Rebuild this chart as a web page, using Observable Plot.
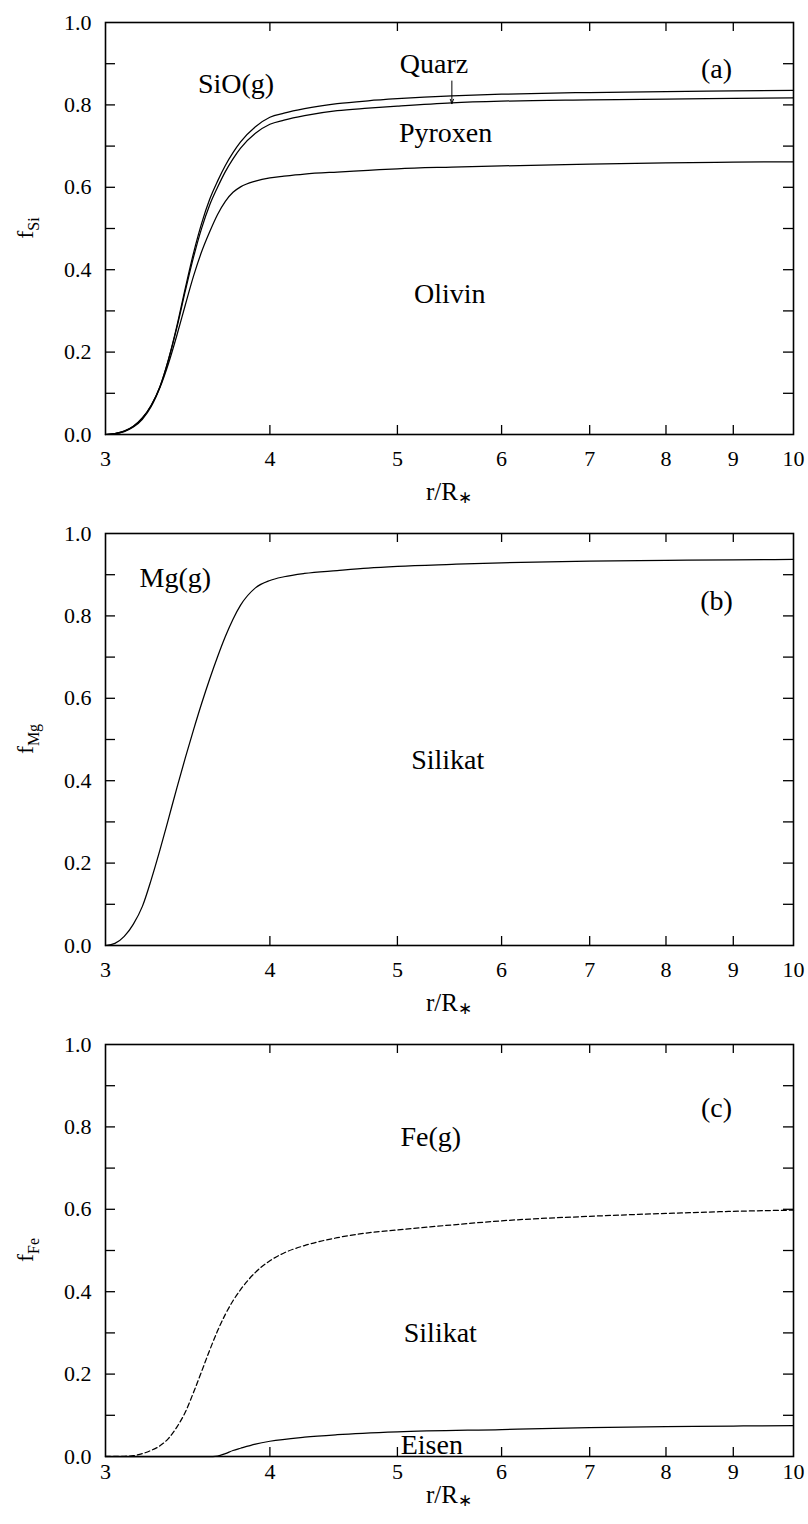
<!DOCTYPE html>
<html><head><meta charset="utf-8">
<script src="https://cdn.jsdelivr.net/npm/d3@7"></script>
<script src="https://cdn.jsdelivr.net/npm/@observablehq/plot@0.6"></script>
<style>
body{margin:0;background:#fff;}
#chart{width:808px;}
#chart svg{display:block;}
</style></head><body><div id="chart"></div>
<script>
// ---------- data ----------
const xTickValues = [3,4,5,6,7,8,9,10];
const xInnerTicks = [4,5,6,7,8,9];
const yTickLabels = [0,0.2,0.4,0.6,0.8,1.0];
const yMinorTicks = [0.1,0.2,0.3,0.4,0.5,0.6,0.7,0.8,0.9];

// panel (a) : Si
const rA = [3.0,3.05,3.1,3.15,3.2,3.25,3.3,3.35,3.4,3.45,3.5,3.55,3.6,3.65,3.7,3.75,3.8,3.9,4.0,4.1,4.25,4.5,4.75,5.0,5.5,6.0,7.0,8.0,9.0,10.0];
const siQuarzTop   = [0,0.002,0.008,0.020,0.040,0.071,0.116,0.183,0.265,0.356,0.441,0.513,0.571,0.615,0.653,0.684,0.710,0.747,0.770,0.780,0.791,0.803,0.810,0.815,0.822,0.826,0.830,0.832,0.834,0.835];
const siPyroxenTop = [0,0.002,0.008,0.020,0.040,0.071,0.116,0.182,0.261,0.349,0.431,0.501,0.557,0.600,0.638,0.669,0.695,0.731,0.753,0.763,0.774,0.786,0.792,0.797,0.805,0.809,0.812,0.814,0.816,0.817];
const siOlivinTop  = [0,0.002,0.007,0.018,0.037,0.068,0.114,0.173,0.242,0.315,0.385,0.444,0.492,0.534,0.566,0.588,0.601,0.615,0.623,0.627,0.632,0.637,0.641,0.645,0.649,0.652,0.656,0.659,0.661,0.662];

// panel (b) : Mg
const rB = rA;
const mgSilikatTop = [0,0.005,0.022,0.052,0.095,0.160,0.232,0.308,0.384,0.456,0.524,0.588,0.647,0.701,0.750,0.792,0.826,0.868,0.886,0.895,0.903,0.910,0.916,0.920,0.925,0.929,0.933,0.935,0.936,0.937];

// panel (c) : Fe
const rC = [3.0,3.1,3.15,3.2,3.25,3.3,3.35,3.4,3.45,3.5,3.55,3.6,3.65,3.7,3.75,3.8,3.9,4.0,4.1,4.25,4.5,4.75,5.0,5.5,6.0,7.0,8.0,9.0,10.0];
const feSilikatTop = [0,0.0005,0.002,0.007,0.015,0.026,0.044,0.072,0.108,0.156,0.207,0.258,0.305,0.345,0.378,0.405,0.447,0.475,0.494,0.512,0.531,0.543,0.550,0.562,0.572,0.583,0.590,0.595,0.598];
const rEisen = [3.0,3.5,3.6,3.62,3.65,3.7,3.75,3.8,3.9,4.0,4.25,4.5,5.0,6.0,7.0,8.0,9.0,10.0];
const feEisenTop = [0,0,0,0,0.001,0.007,0.0145,0.020,0.030,0.037,0.047,0.053,0.060,0.0655,0.070,0.0728,0.074,0.075];

// annotation labels (data coordinates)
const labelsA = [
  {text:"SiO(g)", r:3.77, f:0.850},
  {text:"Quarz", r:5.33, f:0.898},
  {text:"Pyroxen", r:5.44, f:0.731},
  {text:"(a)", r:8.74, f:0.888},
  {text:"Olivin", r:5.48, f:0.342}
];
const arrowA = [{r:5.50, f1:0.858, f2:0.803}];
const labelsB = [
  {text:"Mg(g)", r:3.39, f:0.893},
  {text:"(b)", r:8.74, f:0.835},
  {text:"Silikat", r:5.46, f:0.45}
];
const labelsC = [
  {text:"(c)", r:8.74, f:0.845},
  {text:"Fe(g)", r:5.30, f:0.775},
  {text:"Silikat", r:5.39, f:0.299},
  {text:"Eisen", r:5.31, f:0.027}
];

// ---------- drawing ----------
const FONT = "Liberation Serif, Times New Roman, serif";
const FRAME_H = 412, FRAME_W = 688, MT = 22;

function series(rs, fs) { return rs.map((r, i) => ({r, f: fs[i]})); }

function panel(cfg) {
  const mb = cfg.height - MT - FRAME_H;
  const marks = [
    Plot.frame({stroke: "black", strokeWidth: 1.6}),
    Plot.ruleX(xInnerTicks, {insetTop: FRAME_H - 9, stroke: "black", strokeWidth: 1.3}),
    Plot.ruleX(xInnerTicks, {insetBottom: FRAME_H - 9, stroke: "black", strokeWidth: 1.3}),
    Plot.ruleY(yMinorTicks, {insetRight: FRAME_W - 10, stroke: "black", strokeWidth: 1.3}),
    Plot.ruleY(yMinorTicks, {insetLeft: FRAME_W - 10, stroke: "black", strokeWidth: 1.3}),
    Plot.axisX(xTickValues, {tickSize: 0, tickPadding: cfg.xPad, fontSize: 22, tickFormat: d => String(d), label: null}),
    Plot.axisY(yTickLabels, {tickSize: 0, tickPadding: 14, fontSize: 22, tickFormat: d3.format(".1f"), label: null}),
    ...cfg.lines.map(l => Plot.line(l.data, {x: "r", y: "f", stroke: "black", strokeWidth: 1.25, curve: "monotone-x", strokeDasharray: l.dash || null})),
    Plot.text(cfg.labels, {x: "r", y: "f", text: "text", fontSize: 28, textAnchor: "middle", fill: "black"}),
    ...(cfg.arrows ? [Plot.arrow(cfg.arrows, {x1: "r", x2: "r", y1: "f1", y2: "f2", stroke: "black", strokeWidth: 1, headLength: 7, headAngle: 40})] : [])
  ];
  const p = Plot.plot({
    width: 808, height: cfg.height,
    marginTop: MT, marginBottom: mb, marginLeft: 105, marginRight: 15,
    x: {type: "log", domain: [3, 10]},
    y: {domain: [0, 1]},
    style: {fontFamily: FONT, fontSize: "22px", color: "black", background: "white", overflow: "visible"},
    marks
  });
  const svg = d3.select(p);
  // y label with subscript
  const yl = svg.append("text")
    .attr("transform", `translate(33,${MT + FRAME_H / 2}) rotate(-90)`)
    .attr("text-anchor", "middle")
    .attr("font-family", FONT).attr("font-size", 24).attr("fill", "black");
  yl.append("tspan").text("f");
  yl.append("tspan").attr("font-size", 16).attr("dy", 6).text(cfg.sub);
  // x label r/R*
  const xl = svg.append("text")
    .attr("x", 449).attr("y", MT + FRAME_H + cfg.xLabelOff)
    .attr("text-anchor", "middle")
    .attr("font-family", FONT).attr("font-size", 25).attr("fill", "black");
  xl.append("tspan").text("r/R");
  xl.append("tspan").attr("font-size", 17).attr("dy", 3).text("\u2217");
  return p;
}

const root = document.getElementById("chart");
root.appendChild(panel({
  height: 511, xPad: 16, xLabelOff: 66, sub: "Si",
  lines: [
    {data: series(rA, siQuarzTop)},
    {data: series(rA, siPyroxenTop)},
    {data: series(rA, siOlivinTop)}
  ],
  labels: labelsA, arrows: arrowA
}));
root.appendChild(panel({
  height: 511, xPad: 16, xLabelOff: 66, sub: "Mg",
  lines: [{data: series(rB, mgSilikatTop)}],
  labels: labelsB
}));
root.appendChild(panel({
  height: 502, xPad: 7, xLabelOff: 47, sub: "Fe",
  lines: [
    {data: series(rC, feSilikatTop), dash: "5,3"},
    {data: series(rEisen, feEisenTop)}
  ],
  labels: labelsC
}));
</script></body></html>
